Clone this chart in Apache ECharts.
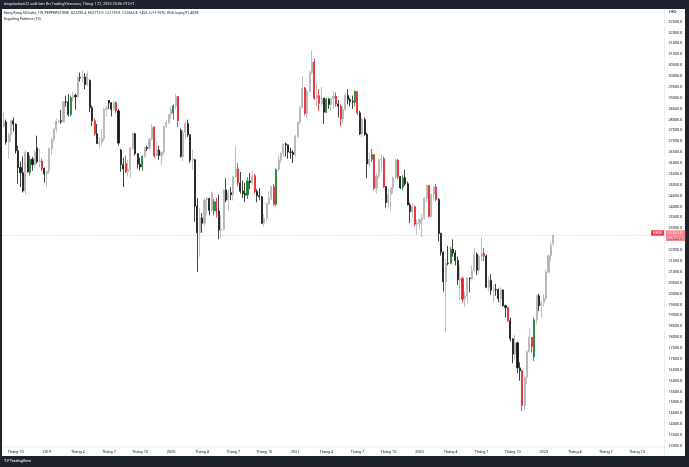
<!DOCTYPE html>
<html><head><meta charset="utf-8">
<script src="https://cdn.jsdelivr.net/npm/echarts@6/dist/echarts.min.js"></script>
<style>html,body{margin:0;padding:0;background:#1e222d;}#c{width:689px;height:467px;}</style>
</head><body><div id="c"></div><script>
// ---- data: weekly candles [open, high, low, close], first week starts Mon 2018-08-27 ----
const firstWeek = '2018-08-27';
const totalWeeks = 277; // visible weekly slots incl. empty future
const ohlc2018 = [
[27700,28370,27620,27890],[27890,28000,26850,26970],[26970,27400,26220,27290],[27290,28000,26970,27950],
[27950,28100,27450,27790],[27790,27830,26440,26570],[26570,26800,25050,25800],[25800,26070,24900,25560],
[25560,26300,24650,24720],[24720,26600,24540,26490],[26490,26500,25560,25600],[25580,26350,25420,26180],
[26180,26290,25650,25930],[25930,26600,25780,26510],[26700,27260,25980,26060],[26060,26650,25800,26100],
[26100,26200,25630,25750],[25750,25800,25100,25500],[25500,25650,24900,25630]];
const ohlc2019 = [
[25630,26700,25500,26670],[26670,27150,26380,27090],[27090,27600,26990,27570],[27570,28050,27400,27930],
[27930,28000,27850,27950],[27950,28450,27800,27900],[27900,28850,27870,28820],[28820,29100,28600,28810],
[28810,29170,28150,28230],[28230,29100,28150,29010],[29010,29280,28850,29110],[29110,29200,28460,29050],
[29050,29980,29020,29940],[29940,30160,29750,29910],[29910,30280,29700,29960],[29960,30140,29400,29610],
[29610,30220,29550,30080],[29800,29850,28350,28550],[28550,28650,27700,27950],[27950,28070,27250,27350],
[27350,27800,26880,26900],[26900,27200,26670,26960],[26960,27580,26800,27120],[27120,28550,27000,28470],
[28470,28650,28150,28540],[28880,28900,28500,28770],[28770,28800,28150,28470],[28470,28850,28400,28770],
[28770,28850,28300,28400],[28400,28500,26800,26920],[26600,26650,25600,25940],[25940,26250,24900,25730],
[25980,26350,25550,25600],[25600,26150,25380,25720],[25720,26750,25330,26690],[26690,27400,26600,27350],
[27350,27400,26350,26440],[26440,26450,25750,25950],[25950,26250,25650,25820],[25820,26350,25630,26310],
[26310,26750,26250,26720],[26720,26800,26550,26670],[26670,27150,26640,27100],[27100,27800,27080,27650],
[27650,27700,26250,26330],[26330,27000,26300,26600],[26600,26800,26150,26350],[26350,26550,25900,26500],
[26500,27700,26400,27690],[27690,28000,27600,27870],[27870,28250,27800,28230],[28230,28600,28050,28450]];
const ohlc2020 = [
[28300,28700,28000,28640],[28640,29170,28500,29060],[29060,29080,27650,27950],[27500,27600,26250,26310],
[26310,27550,26100,27400],[27400,27900,27100,27820],[27820,28000,27200,27310],[27310,27320,26000,26130],
[26130,26600,25700,26150],[26150,26200,23300,24030],[24030,24400,21000,22810],[22810,23950,21700,23480],
[23480,23700,22800,23240],[23240,24400,23100,24300],[24300,24450,23600,24380],[24380,24400,23600,23830],
[23830,24700,23750,24640],[23800,24350,23600,24230],[24230,24400,23500,23800],[23800,24550,22500,22930],
[22930,23600,22550,22960],[22960,24800,22900,24770],[24770,25300,24200,24300],[24300,24800,23800,24640],
[24640,24900,24300,24550],[24550,25400,24280,25370],[25370,26780,25350,25730],[25730,26000,24950,25090],
[25090,25600,24600,24710],[24710,25200,24400,24600],[24600,25100,24200,24530],[24530,25350,24350,25180],
[25180,25550,24800,25110],[25110,25650,25000,25420],[25420,25500,24600,24700],[24700,24800,24200,24500],
[24500,24850,24300,24450],[24450,24500,23200,23240],[23240,23650,23100,23460],[23460,24200,23300,24120],
[24120,24700,24100,24390],[24390,24950,24300,24920],[24920,25050,24050,24110],[24110,25750,24000,25710],
[25710,26350,25600,26160],[26160,26500,26000,26450],[26450,26900,26300,26890],[26890,26950,26300,26840],
[26840,26850,26200,26510],[26510,26700,26200,26500],[26500,26600,26000,26390],[26390,27300,26300,27230]];
const ohlc2021 = [
[27230,27900,27150,27880],[27880,28650,27800,28570],[28570,30000,28500,29450],[29450,29500,28200,28280],
[28280,29400,28100,29290],[29290,30250,29250,30170],[30170,31180,30100,30640],[30640,30800,28900,28980],
[28980,29700,28600,29100],[29100,29400,28400,28740],[28740,29500,28600,28990],[28990,29000,27800,28340],
[28340,29000,28300,28940],[28940,29000,28500,28700],[28700,29000,28400,28970],[28970,29300,28500,29080],
[29080,29250,28600,28720],[28720,28900,28100,28610],[28610,28700,27700,28030],[28030,28600,27800,28460],
[28460,29250,28400,29120],[29120,29400,28700,28920],[28920,29000,28600,28840],[28840,29100,28500,28800],
[28800,29350,28600,29290],[29290,29300,28200,28310],[28310,28400,27300,27340],[27340,28100,27200,28000],
[28000,28100,27250,27320],[27320,27400,25300,25960],[25960,26480,25850,26180],[26180,26650,26050,26390],
[26390,26400,24750,24850],[24850,25550,24600,25410],[25410,26200,25300,26140],[26140,26400,25600,26200],
[26200,26300,24850,24920],[24920,24950,23950,24190],[24190,24800,23900,24570],[24570,24900,23800,24840],
[24840,25400,24600,25330],[25330,26200,25300,26130],[26130,26200,25250,25380],[25380,25400,24800,24870],
[24870,25450,24750,25330],[25330,25700,24950,25050],[25050,25150,24050,24080],[24080,24200,23250,23770],
[23770,24200,23500,24000],[24000,24050,23100,23190],[23190,23400,22700,23220],[23220,23450,22950,23400]];
const ohlc2022 = [
[23400,23650,22600,23490],[23490,24450,23400,24380],[24380,25050,24200,24970],[24970,25000,23500,23550],
[23550,24600,23500,24570],[24570,24950,24300,24900],[24900,25050,24250,24330],[24330,24400,22400,22770],
[22770,22800,21750,21900],[21900,21950,20100,20550],[20550,21600,18240,21410],[21410,22200,21300,21400],
[21400,22150,21350,22040],[22040,22500,21700,21870],[21870,22000,21300,21520],[21520,21700,20400,20640],
[20640,21250,19700,20700],[20700,20800,19600,19750],[19750,20100,19380,19900],[19900,20750,19550,20720],
[20720,20750,20050,20700],[20700,21300,20600,21080],[21080,22100,21000,21800],[21800,21900,20850,21080],
[21080,21800,20900,21720],[21720,22600,21500,21860],[21860,22100,21500,21730],[21730,21800,20250,20300],
[20300,20800,20100,20610],[20610,20900,19950,20160],[20160,20400,19600,20200],[20200,20450,19900,20180],
[20180,20250,19600,19780],[19780,20300,19450,20170],[20170,20200,19400,19450],[19450,19500,18900,19360],
[19360,19400,18700,18760],[18760,18900,17800,17930],[17930,17950,16800,17220],[17220,18100,16950,17740],
[17740,17800,16350,16590],[16590,16850,16000,16450],[16450,16500,14600,14860],[14860,16200,14620,16160],
[16160,17400,15850,17330],[17330,18400,17300,17990],[17990,18000,17300,17570],[17100,18900,16900,18800],
[18800,19950,18600,19900],[19900,20000,19200,19450],[19450,19700,18900,19590],[19590,20000,19400,19780]];
const ohlc2023 = [
[19780,21100,19700,20990],[20990,21800,20950,21740],[21740,22350,21500,22239.5],[22290.4,22713.9,22195.9,22665.8]];
// Engulfing Patterns indicator output (week indexes)
const bullishEngulfing = [11,28,58,71,88,102,114,135,147,154,167,187,222];
const bearishEngulfing = [16,38,47,51,63,73,89,98,105,113,126,130,132,139,141,148,155,159,165,172,178,181,192,201,211,217,221];
const priceMin = 13000, priceMax = 32500, priceStep = 500;
const quarterMonths = [0,3,6,9];
const symbolTag = 'HK50';
const countdown = '06:50:47';
const volumeText = 'Khối lượng 91.403K';

// ---- build ----
const bars = [].concat(ohlc2018, ohlc2019, ohlc2020, ohlc2021, ohlc2022, ohlc2023);
const start = new Date(firstWeek + 'T00:00:00Z');
const cats = [];
for (let i = 0; i < totalWeeks; i++) {
  const d = new Date(start.getTime() + i * 7 * 86400000);
  cats.push(d.toISOString().slice(0, 10));
}
function quarterLabel(idx) {
  const d = new Date(cats[idx] + 'T00:00:00Z');
  const e = new Date(d.getTime() + 6 * 86400000);
  if (d.getUTCDate() === 1 && quarterMonths.includes(d.getUTCMonth())) return d;
  if (e.getUTCMonth() !== d.getUTCMonth() && quarterMonths.includes(e.getUTCMonth())) return e;
  return null;
}
const GREEN = '#1b7f2a', RED = '#e8212b', UP = '#b3b3b3', DOWN = '#141414', TAG = '#f23645';
const series = bars.map((b, i) => {
  const item = { value: [b[0], b[3], b[2], b[1]] };
  let c = null;
  if (bullishEngulfing.includes(i)) c = GREEN;
  if (bearishEngulfing.includes(i)) c = RED;
  if (c) item.itemStyle = { color: c, color0: c, borderColor: c, borderColor0: c };
  return item;
});
const last = bars[bars.length - 1], prev = bars[bars.length - 2];
const chg = last[3] - prev[3];
const legend1 = 'Hong Kong 50 Index, 1W, PEPPERSTONE  O' + last[0].toFixed(1) + '  H' + last[1].toFixed(1) +
  '  L' + last[2].toFixed(1) + '  C' + last[3].toFixed(1) + '  +' + chg.toFixed(1) + ' (+' + (chg / prev[3] * 100).toFixed(2) + '%)  ' + volumeText;

const FONT = 'Roboto, "Liberation Sans", sans-serif';
const chart = echarts.init(document.getElementById('c'), null, { renderer: 'canvas' });
const frame = [
  { type: 'rect', z: -10, shape: { x: 2, y: 9, width: 683, height: 447 }, style: { fill: '#ffffff' } },
  { type: 'line', z: 5, shape: { x1: 664.5, y1: 9, x2: 664.5, y2: 456 }, style: { stroke: '#e0e3eb', lineWidth: 0.6 } },
  { type: 'line', z: 5, shape: { x1: 2, y1: 447, x2: 664.5, y2: 447 }, style: { stroke: '#e0e3eb', lineWidth: 0.6 } },
  { type: 'text', z: 10, style: { x: 4, y: 4.5, text: 'bingobaibon22 xuất bản lên TradingView.com, Tháng 1 27, 2023 20:06 UTC+7', fill: '#e8e8e8', font: '3.8px ' + FONT, verticalAlign: 'middle' } },
  { type: 'text', z: 10, style: { x: 4, y: 13.5, text: legend1, fill: '#131722', font: '3.6px ' + FONT, verticalAlign: 'middle' } },
  { type: 'text', z: 10, style: { x: 4, y: 19.5, text: 'Engulfing Patterns (10)', fill: '#131722', font: '3.6px ' + FONT, verticalAlign: 'middle' } },
  { type: 'text', z: 10, style: { x: 669, y: 12.5, text: 'HKD', fill: '#131722', font: '3.8px ' + FONT, verticalAlign: 'middle' } },
  { type: 'text', z: 10, style: { x: 4, y: 461.5, text: 'TV TradingView', fill: '#d1d4dc', font: 'bold 3.8px ' + FONT, verticalAlign: 'middle' } }
];
chart.setOption({
  animation: false,
  backgroundColor: '#1e222d',
  graphic: frame,
  grid: { left: 2.6, right: 689 - 664.4, top: 21.7, height: 424.3, containLabel: false },
  xAxis: {
    type: 'category', data: cats, boundaryGap: true,
    axisLine: { show: false }, axisTick: { show: false }, splitLine: { show: false },
    axisLabel: {
      interval: (idx) => quarterLabel(idx) !== null,
      formatter: (v, idx) => { const d = quarterLabel(idx); if (!d) return ''; return d.getUTCMonth() === 0 ? String(d.getUTCFullYear()) : 'Tháng ' + (d.getUTCMonth() + 1); },
      color: '#131722', fontSize: 3.8, fontFamily: FONT, margin: 4.5, hideOverlap: false
    }
  },
  yAxis: {
    type: 'value', position: 'right', min: priceMin, max: priceMax, interval: priceStep, scale: true,
    axisLine: { show: false }, axisTick: { show: false }, splitLine: { show: false },
    axisLabel: { formatter: (v) => v.toFixed(1), color: '#131722', fontSize: 3.8, fontFamily: FONT, margin: 4 }
  },
  series: [{
    type: 'candlestick', data: series, barWidth: '66%',
    itemStyle: { color: UP, color0: DOWN, borderColor: UP, borderColor0: DOWN, borderWidth: 0.8 },
    markLine: {
      silent: true, symbol: ['none', 'none'], animation: false,
      data: [
        { yAxis: last[3], lineStyle: { color: '#f7525f', type: [1, 1.5], width: 0.6, opacity: 0.6 },
          label: { show: true, position: 'end', distance: 1.5, formatter: last[3].toFixed(1) + '\n' + countdown,
            backgroundColor: TAG, color: '#fff', fontSize: 3.8, lineHeight: 4.6, padding: [0.8, 2.5, 0.8, 2.5], fontFamily: FONT } }
      ]
    }
  }]
});
// symbol tag placed from the axis scale, just left of the price scale
const py = chart.convertToPixel({ yAxisIndex: 0 }, last[3]);
chart.setOption({
  graphic: frame.concat([
    { type: 'rect', z: 20, shape: { x: 651, y: py - 5.4, width: 13, height: 5.4 }, style: { fill: TAG } },
    { type: 'text', z: 21, style: { x: 657.5, y: py - 2.7, text: symbolTag, fill: '#fff', font: '3.6px ' + FONT, align: 'center', verticalAlign: 'middle' } }
  ])
}, { replaceMerge: ['graphic'] });
</script></body></html>
